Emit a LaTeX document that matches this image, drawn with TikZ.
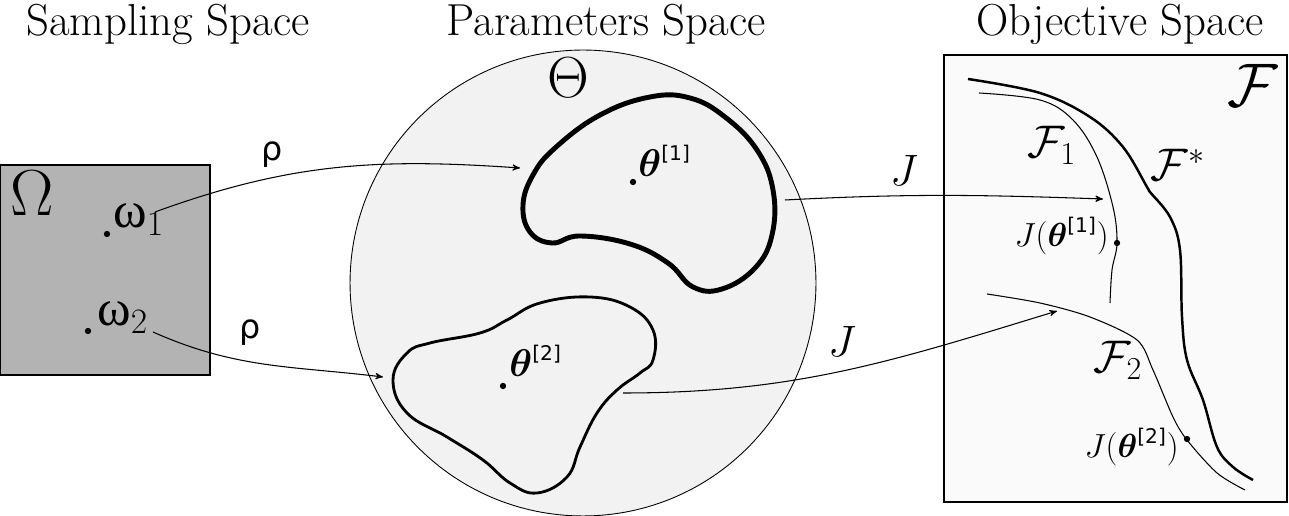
\RequirePackage{fix-cm}
\documentclass[tikz,border=0pt]{standalone}
\usepackage{amsmath}
\usepackage[no-math]{fontspec}
\newfontfamily\dvsans{DejaVu Sans}
\newfontfamily\lbserif{Liberation Serif}
\usepackage{tikz}
\usetikzlibrary{arrows}
\usetikzlibrary{calc}
\newcommand{\bth}{\boldsymbol{\theta}}
\newcommand{\sqb}[1]{\mbox{\fontsize{11.5}{12}\selectfont\dvsans[#1]}}
\newcommand{\fs}[1]{\fontsize{#1}{#1}\selectfont}
\definecolor{omgray}{HTML}{B3B3B3}
\definecolor{thgray}{HTML}{F2F2F2}
\definecolor{objgray}{HTML}{FAFAFA}

\begin{document}
\begin{tikzpicture}[x=0.02cm,y=-0.02cm,
    title/.style={font=\fs{25.5},anchor=base,inner sep=0pt},
    dot/.style={circle,fill=black,inner sep=0pt,minimum size=3.6pt},
    map/.style={->,>=stealth',line width=0.6pt}]
\useasboundingbox (0,0) rectangle (1289,516);

\node[title] (ts) at (168,36) {Sampling Space};
\node[title] (tp) at (606,36) {Parameters Space};
\node[title] (to) at (1120,36) {Objective Space};

\node[draw,line width=0.8pt,fill=omgray,minimum width=4.2cm,minimum height=4.2cm,inner sep=0pt] (Om) at (105,270) {};
\node[font=\fs{37}] (OmL) at (32,193) {$\Omega$};
\node[dot] (d1) at (107,234) {};
\node[anchor=base west,inner sep=0pt,font=\fs{29}] (w1) at (113,228) {{\lbserif ω}$_1$};
\node[dot] (d2) at (88,331) {};
\node[anchor=base west,inner sep=0pt,font=\fs{29}] (w2) at (97,326) {{\lbserif ω}$_2$};

\node[draw,circle,line width=0.5pt,fill=thgray,minimum size=9.32cm,inner sep=0pt] (Th) at (583,283) {};
\node[font=\fs{33}] (ThL) at (568,78) {$\Theta$};

\draw[line width=2.8pt,line join=round] plot[smooth cycle,tension=0.7] coordinates {
  (555,148) (600,115) (650,97) (690,98) (725,117) (757,150) (773,190) (772,235)
  (755,268) (722,289) (693,287) (668,263) (630,244) (580,236) (552,243) (530,232)
  (523,205) (533,175)};
\draw[line width=1.6pt,line join=round] plot[smooth cycle,tension=0.7] coordinates {
  (393,380) (407,353) (430,343) (480,333) (507,320) (540,303) (590,297) (630,307)
  (653,330) (653,360) (640,373) (617,390) (597,413) (580,447) (567,477) (537,493)
  (510,483) (483,460) (447,437) (407,413)};

\node[dot] (p1) at (633,182) {};
\node[anchor=base west,inner sep=0pt,font=\fs{22}] (t1) at (638,177) {$\bth^{\sqb{1}}$};
\node[dot] (p2) at (503,386) {};
\node[anchor=base west,inner sep=0pt,font=\fs{22}] (t2) at (509,377) {$\bth^{\sqb{2}}$};

\node[draw,line width=0.8pt,fill=objgray,minimum width=6.86cm,minimum height=8.94cm,inner sep=0pt] (Ob) at (1115.5,278.5) {};
\node[font=\fs{35}] (FL) at (1253,85) {$\mathcal{F}$};

\draw[line width=1.4pt] plot[smooth,tension=0.6] coordinates {
  (968,79) (1040,93) (1090,117) (1123,147) (1147,187) (1150,192) (1170,217) (1180,250)
  (1182,317) (1187,360) (1203,400) (1217,447) (1233,467) (1253,480)};
\draw[line width=0.6pt] plot[smooth,tension=0.6] coordinates {
  (979,93) (1040,100) (1073,120) (1097,157) (1113,207) (1117,243) (1112,270) (1110,303)};
\draw[line width=0.6pt] plot[smooth,tension=0.5] coordinates {
  (987,294) (1040,303) (1090,317) (1137,340) (1153,370) (1173,417) (1187,440) (1217,473) (1245,490)};

\node[font=\fs{26}] (F1) at (1052,145) {$\mathcal{F}_1$};
\node[font=\fs{26}] (Fs) at (1178,165) {$\mathcal{F}^*$};
\node[font=\fs{26}] (F2) at (1118,360) {$\mathcal{F}_2$};

\node[dot] (j1) at (1117,243) {};
\node[anchor=east,inner sep=0pt,font=\fs{19}] (J1) at (1109,236) {$J(\bth^{\sqb{1}})$};
\node[dot] (j2) at (1187,439) {};
\node[anchor=east,inner sep=0pt,font=\fs{19}] (J2) at (1179,447) {$J(\bth^{\sqb{2}})$};

\coordinate (r1s) at (155,212);
\coordinate (r1e) at (520,168);
\coordinate (r2s) at (153,332);
\coordinate (r2e) at (383,377);
\coordinate (j1s) at (785,200);
\coordinate (j1e) at (1103,199);
\coordinate (j2s) at (623,393);
\coordinate (j2e) at (1057,311);

\draw[map] (r1s) to[out=20,in=176] (r1e);
\draw[map] (r2s) to[out=-24,in=173] (r2e);
\draw[map] (j1s) to[out=3,in=178] (j1e);
\draw[map] (j2s) to[out=0,in=197] (j2e);

\node[font=\fs{19}] (rho1) at (272,155) {\dvsans ρ};
\node[font=\fs{19}] (rho2) at (250,333) {\dvsans ρ};
\node[font=\fs{25}] (Jm1) at (904,170) {$J$};
\node[font=\fs{25}] (Jm2) at (842,341) {$J$};
\end{tikzpicture}
\end{document}
